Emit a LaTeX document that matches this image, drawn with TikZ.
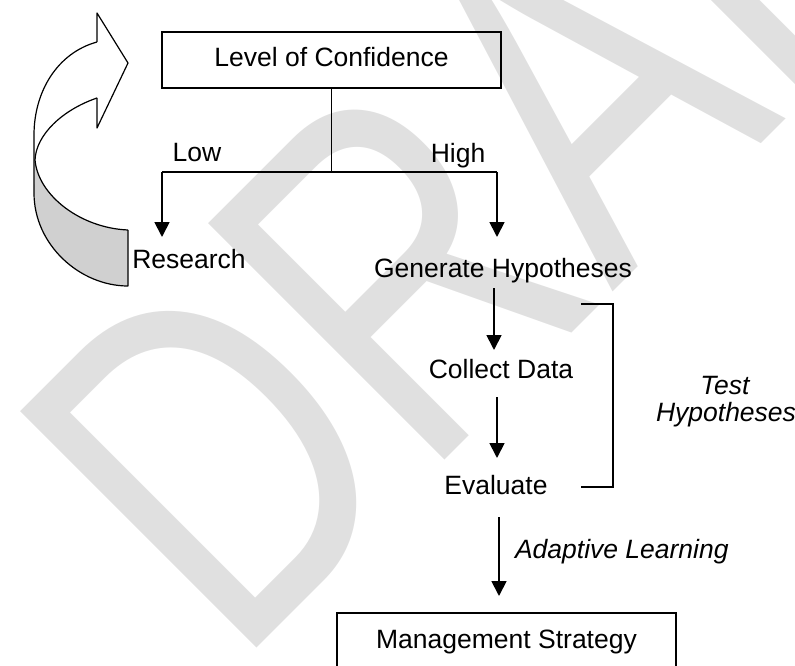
\documentclass[tikz,border=0pt]{standalone}
\usepackage{fontspec}
\setmainfont{Liberation Sans}
\newfontfamily\wmfont[FakeStretch=0.76]{Liberation Sans}
\usetikzlibrary{arrows.meta}
\definecolor{wmgray}{HTML}{E0E0E0}
\definecolor{ribbongray}{HTML}{D0D0D0}
\tikzset{
  lbl/.style={inner sep=0pt, outer sep=0pt, text height=19pt, text depth=5pt,
    anchor=base, font=\fontsize{26.5}{30}\selectfont},
  ilbl/.style={lbl, font=\fontsize{26.5}{30}\selectfont\itshape},
  box/.style={draw, line width=1.5pt, inner sep=0pt, outer sep=0pt,
    minimum width=339pt, minimum height=56pt, text height=19pt, text depth=5pt,
    font=\fontsize{26.5}{30}\selectfont},
  arr/.style={line width=1.8pt, -{Triangle[width=15pt,length=15pt]}},
  wire/.style={line width=1.2pt},
  ribbon/.style={line width=1.2pt, line join=round},
}
\begin{document}
\begin{tikzpicture}[x=1pt,y=-1pt]
\useasboundingbox (0,0) rectangle (795,666);
\clip (0,0) rectangle (795,666);

% watermark
\node[rotate=45, anchor=base west, inner sep=0pt, text=wmgray,
      font=\wmfont\fontsize{486}{486}\selectfont] (wm) at (235,670) {DRAFT};

% curved return arrow
\fill[ribbongray] (35,158) .. controls (38,195) and (80,228) .. (128,230)
  -- (128,286) .. controls (80,286) and (34,245) .. (34,193) -- cycle;
\draw[ribbon] (97,42) .. controls (57,53) and (34,92) .. (34,135) -- (34,193)
  .. controls (34,245) and (80,286) .. (128,286) -- (128,230);
\draw[ribbon] (97,98) .. controls (62,110) and (36,135) .. (35,160)
  .. controls (38,195) and (80,228) .. (128,230);
\draw[ribbon] (97,42) -- (97,13) -- (128,63) -- (97,128) -- (97,98);

% nodes
\node[box] (conf) at (331.5,60) {Level of Confidence};
\node[lbl] (low) at (197,161) {Low};
\node[lbl] (high) at (458,163) {High};
\node[lbl] (research) at (189,268) {Research};
\node[lbl] (gen) at (503,277) {Generate Hypotheses};
\node[lbl] (collect) at (501,378) {Collect Data};
\node[lbl] (eval) at (496,494) {Evaluate};
\node[ilbl] (testA) at (725,394) {Test};
\node[ilbl] (testB) at (726,421) {Hypotheses};
\node[ilbl, anchor=base west] (adapt) at (515,558) {Adaptive Learning};
\node[box] (mgmt) at (506.5,641) {Management Strategy};

% branching from the confidence box
\coordinate (split) at (conf.south |- 0,172);
\coordinate (lowc) at (162,172);
\coordinate (highc) at (497,172);
\draw[wire] (conf.south) -- (split);
\draw[wire] (lowc) -- (highc);
\draw[arr, shorten >=12pt] (lowc) -- (lowc |- research.north);
\draw[arr, shorten >=21pt] (highc) -- (highc |- gen.north);

% main chain
\coordinate (g1) at ([xshift=-9pt,yshift=-6pt]gen.south);
\draw[arr, shorten >=9pt] (g1) -- (g1 |- collect.north);
\coordinate (c1) at ([xshift=-4pt,yshift=-14pt]collect.south);
\draw[arr, shorten >=17pt] (c1) -- (c1 |- eval.north);
\coordinate (e1) at ([xshift=3pt,yshift=-18pt]eval.south);
\draw[arr, shorten >=17pt] (e1) -- (e1 |- mgmt.north);

% bracket grouping the test steps
\coordinate (brT) at (581,304);
\coordinate (brB) at (581,487);
\draw[wire] (brT) -- ++(32,0) |- (brB);
\end{tikzpicture}
\end{document}
